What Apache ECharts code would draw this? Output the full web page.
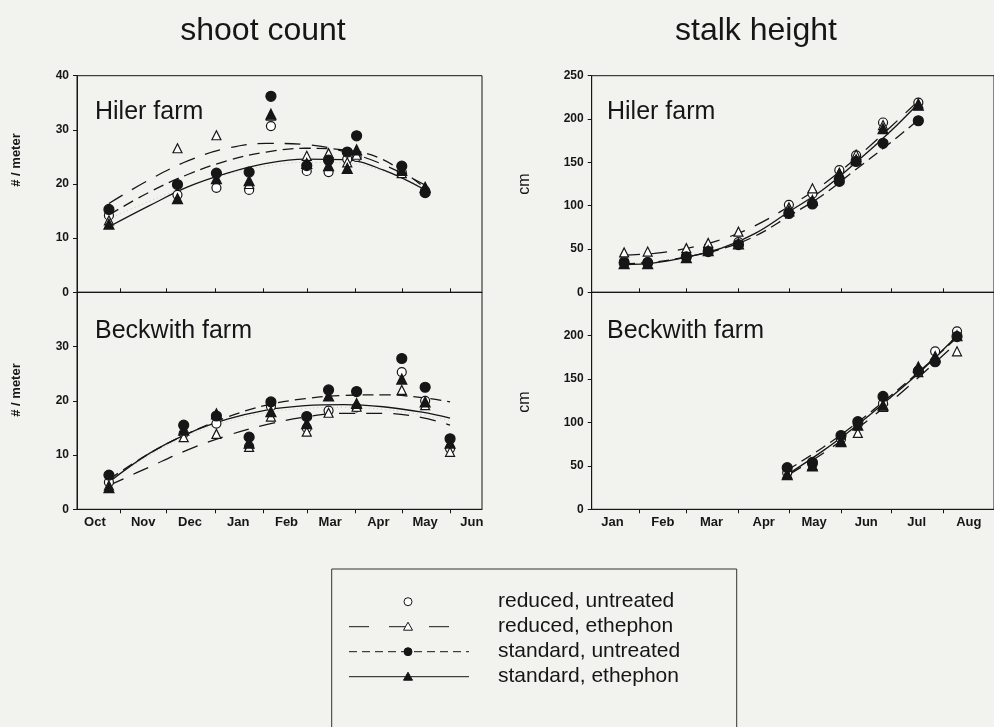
<!DOCTYPE html>
<html><head><meta charset="utf-8">
<script src="https://cdn.jsdelivr.net/npm/echarts@6/dist/echarts.min.js"></script>
<style>html,body{margin:0;padding:0;background:#f2f2ef}#c{width:994px;height:727px}</style>
</head><body><div id="c"></div>
<script>
// ---------- text ----------
const treatments = ['reduced, untreated', 'reduced, ethephon', 'standard, untreated', 'standard, ethephon'];
const columnTitles = ['shoot count', 'stalk height'];
const farmNames = ['Hiler farm', 'Beckwith farm'];
const shootUnit = '# / meter';
const heightUnit = 'cm';

// ---------- x axes (days; shoot: day 0 = Oct 1, height: day 0 = Jan 1) ----------
const shootMonths = ['Oct', 'Nov', 'Dec', 'Jan', 'Feb', 'Mar', 'Apr', 'May', 'Jun'];
const shootMonthLabelDays = [15, 46, 76, 107, 138, 166, 197, 227, 257];
const shootMonthTickDays = [31, 61, 92, 123, 151, 182, 212, 243];
const heightMonths = ['Jan', 'Feb', 'Mar', 'Apr', 'May', 'Jun', 'Jul', 'Aug'];
const heightMonthLabelDays = [15, 45, 74, 105, 135, 166, 196, 227];
const heightMonthTickDays = [31, 59, 90, 120, 151, 181, 212];

// ---------- Hiler farm, shoot count ----------
const hilerShootDays = [24, 68, 93, 114, 128, 151, 165, 177, 183, 212, 227];
const hilerShootRedUnt = [14.2, 18.0, 19.3, 18.9, 30.7, 22.4, 22.2, 24.6, 25.0, 22.2, 18.8];
const hilerShootRedEth = [13.3, 26.6, 29.0, 20.0, 32.6, 25.2, 25.7, 24.0, 25.4, 22.0, 19.3];
const hilerShootStdUnt = [15.3, 19.9, 22.0, 22.2, 36.2, 23.4, 24.4, 25.9, 28.9, 23.3, 18.4];
const hilerShootStdEth = [12.6, 17.3, 21.0, 20.6, 32.9, 23.8, 23.4, 22.9, 26.3, 22.5, 19.4];
const hilerShootFitDays = [24, 50, 75, 100, 125, 150, 175, 200, 227];
const hilerShootFitRedUnt = [13.6, 16.8, 19.6, 21.8, 23.3, 24.0, 23.9, 22.4, 19.2];
const hilerShootFitRedEth = [16.4, 20.8, 24.3, 26.6, 27.5, 27.3, 26.0, 23.6, 19.8];
const hilerShootFitStdUnt = [14.3, 18.5, 21.8, 24.3, 25.9, 26.6, 26.3, 24.5, 19.2];
const hilerShootFitStdEth = [12.1, 16.0, 19.5, 22.0, 23.8, 24.6, 24.5, 22.6, 18.9];

// ---------- Beckwith farm, shoot count ----------
const beckShootDays = [24, 72, 93, 114, 128, 151, 165, 183, 212, 227, 243];
const beckShootRedUnt = [5.0, 14.0, 15.8, 11.6, 19.0, 15.0, 18.2, 18.8, 25.3, 20.0, 11.2];
const beckShootRedEth = [4.4, 13.3, 13.9, 11.5, 17.1, 14.3, 17.8, 18.9, 22.0, 19.2, 10.6];
const beckShootStdUnt = [6.3, 15.5, 17.2, 13.3, 19.8, 17.1, 22.0, 21.7, 27.8, 22.5, 13.0];
const beckShootStdEth = [4.0, 14.6, 17.6, 12.2, 18.0, 15.8, 20.9, 19.5, 24.0, 19.8, 12.2];
const beckShootFitDays = [24, 50, 75, 100, 125, 150, 175, 200, 225, 243];
const beckShootFitRedUnt = [5.3, 9.9, 13.6, 16.2, 17.8, 18.6, 18.8, 18.4, 17.4, 16.3];
const beckShootFitRedEth = [4.4, 7.8, 11.0, 13.6, 15.6, 17.0, 17.7, 17.7, 16.9, 15.5];
const beckShootFitStdUnt = [5.5, 10.3, 14.0, 17.0, 19.2, 20.4, 21.0, 21.1, 20.6, 19.8];
const beckShootFitStdEth = [5.0, 10.3, 14.0, 16.6, 18.3, 19.1, 19.3, 18.9, 17.9, 16.8];

// ---------- Hiler farm, stalk height ----------
const hilerHeightDays = [22, 36, 59, 72, 90, 120, 134, 150, 160, 176, 197];
const hilerHeightRedUnt = [36, 35, 42, 50, 58, 101, 114, 141, 158, 196, 219];
const hilerHeightRedEth = [46, 47, 51, 57, 70, 98, 120, 138, 159, 193, 218];
const hilerHeightStdUnt = [34, 34, 41, 47, 55, 91, 102, 128, 151, 172, 198];
const hilerHeightStdEth = [33, 33, 40, 48, 56, 94, 106, 137, 153, 189, 216];
const hilerHeightFitDays = [22, 40, 60, 80, 100, 120, 140, 160, 180, 197];
const hilerHeightFitRedUnt = [33, 35, 42, 52, 69, 94, 120, 152, 187, 219];
const hilerHeightFitRedEth = [43, 45, 51, 61, 77, 99, 124, 155, 190, 221];
const hilerHeightFitStdUnt = [33, 35, 41, 50, 65, 88, 112, 142, 172, 199];
const hilerHeightFitStdEth = [32, 34, 41, 51, 68, 93, 118, 150, 185, 218];

// ---------- Beckwith farm, stalk height ----------
const beckHeightDays = [119, 134, 151, 161, 176, 197, 207, 220];
const beckHeightRedUnt = [42, 52, 81, 98, 122, 160, 182, 205];
const beckHeightRedEth = [41, 51, 79, 88, 118, 158, 174, 182];
const beckHeightStdUnt = [48, 54, 85, 101, 130, 159, 170, 199];
const beckHeightStdEth = [40, 50, 78, 97, 120, 164, 176, 200];
const beckHeightFitDays = [119, 140, 160, 180, 200, 220];
const beckHeightFitRedUnt = [41, 66, 95, 127, 161, 199];
const beckHeightFitRedEth = [39, 64, 92, 123, 157, 192];
const beckHeightFitStdUnt = [45, 71, 99, 130, 163, 198];
const beckHeightFitStdEth = [40, 67, 96, 128, 162, 200];

// ---------- build ----------
const FONT = 'Liberation Sans, Arial, Helvetica, sans-serif';
const INK = '#161616';
const zip = (xs, ys) => xs.map((x, i) => [x, ys[i]]);

const panels = [
  {days: hilerShootDays, vals: [hilerShootRedUnt, hilerShootRedEth, hilerShootStdUnt, hilerShootStdEth],
   fitDays: hilerShootFitDays, fits: [hilerShootFitRedUnt, hilerShootFitRedEth, hilerShootFitStdUnt, hilerShootFitStdEth]},
  {days: beckShootDays, vals: [beckShootRedUnt, beckShootRedEth, beckShootStdUnt, beckShootStdEth],
   fitDays: beckShootFitDays, fits: [beckShootFitRedUnt, beckShootFitRedEth, beckShootFitStdUnt, beckShootFitStdEth]},
  {days: hilerHeightDays, vals: [hilerHeightRedUnt, hilerHeightRedEth, hilerHeightStdUnt, hilerHeightStdEth],
   fitDays: hilerHeightFitDays, fits: [hilerHeightFitRedUnt, hilerHeightFitRedEth, hilerHeightFitStdUnt, hilerHeightFitStdEth]},
  {days: beckHeightDays, vals: [beckHeightRedUnt, beckHeightRedEth, beckHeightStdUnt, beckHeightStdEth],
   fitDays: beckHeightFitDays, fits: [beckHeightFitRedUnt, beckHeightFitRedEth, beckHeightFitStdUnt, beckHeightFitStdEth]}
];

const grids = [
  {left: 77, top: 75.7, width: 405, height: 216.6},
  {left: 77, top: 292.3, width: 405, height: 217},
  {left: 591.7, top: 75.7, width: 410, height: 216.6},
  {left: 591.7, top: 292.3, width: 410, height: 217}
].map(g => Object.assign(g, {show: true, borderColor: INK, borderWidth: 1, backgroundColor: 'transparent'}));

function xAxis(i) {
  const shoot = i < 2, bottom = (i % 2) === 1;
  const labelDays = shoot ? shootMonthLabelDays : heightMonthLabelDays;
  const names = shoot ? shootMonths : heightMonths;
  return {
    type: 'value', gridIndex: i,
    min: shoot ? 3.5 : 2.7, max: shoot ? 263.5 : 242,
    axisLine: {show: true, onZero: false, lineStyle: {color: INK, width: 1}},
    axisTick: {show: true, inside: !bottom, length: 4, customValues: shoot ? shootMonthTickDays : heightMonthTickDays,
               lineStyle: {color: INK, width: 1}},
    axisLabel: {show: bottom, customValues: labelDays, margin: 7,
                formatter: v => names[labelDays.indexOf(v)] || '',
                fontFamily: FONT, fontWeight: 'bold', fontSize: 13, color: INK},
    splitLine: {show: false}
  };
}
function yAxis(i) {
  const shoot = i < 2, bottom = (i % 2) === 1;
  return {
    type: 'value', gridIndex: i, min: 0, max: shoot ? 40 : 250, interval: shoot ? 10 : 50,
    axisLine: {show: true, onZero: false, lineStyle: {color: INK, width: 1}},
    axisTick: {show: true, length: 4, lineStyle: {color: INK, width: 1}},
    axisLabel: {showMaxLabel: !bottom, margin: 8, fontFamily: FONT, fontWeight: 'bold', fontSize: 12, color: INK},
    splitLine: {show: false}
  };
}

const markerStyle = [
  {symbol: 'circle', size: 9, fill: '#ffffff'},
  {symbol: 'triangle', size: 9, fill: '#ffffff'},
  {symbol: 'circle', size: 10, fill: INK},
  {symbol: 'triangle', size: 10, fill: INK}
];
const fitStyle = [
  {type: [1, 3], color: '#c8c8c4', width: 1},
  {type: [16, 11], color: INK, width: 1.3},
  {type: [11, 6], color: INK, width: 1.3},
  {type: 'solid', color: INK, width: 1.3}
];

const series = [];
panels.forEach((p, i) => {
  p.fits.forEach((f, t) => {
    series.push({
      type: 'line', name: treatments[t], xAxisIndex: i, yAxisIndex: i,
      data: zip(p.fitDays, f), smooth: 0.4, symbol: 'none', silent: true, z: 2,
      lineStyle: {type: fitStyle[t].type, color: fitStyle[t].color, width: fitStyle[t].width}
    });
  });
  [0, 1, 3, 2].forEach(t => {
    const m = markerStyle[t];
    series.push({
      type: 'scatter', name: treatments[t], xAxisIndex: i, yAxisIndex: i,
      data: zip(p.days, p.vals[t]), symbol: m.symbol, symbolSize: m.size, z: 3,
      itemStyle: {color: m.fill, borderColor: INK, borderWidth: 1.2, opacity: 1}
    });
  });
});

// legend drawn as graphic
const LX = 331.7, LY = 569, rowY = [601.7, 626.7, 651.7, 676.7], symX = 408, txtX = 498;
const legendLine = [null, [20, 20], [8, 5], null];
const graphic = [];
graphic.push(
  {type: 'text', x: 263, y: 31, style: {text: columnTitles[0], font: '32px ' + FONT, fill: INK, align: 'center', verticalAlign: 'middle'}},
  {type: 'text', x: 756, y: 31, style: {text: columnTitles[1], font: '32px ' + FONT, fill: INK, align: 'center', verticalAlign: 'middle'}},
  {type: 'text', x: 95, y: 112, style: {text: farmNames[0], font: '25px ' + FONT, fill: INK, verticalAlign: 'middle'}},
  {type: 'text', x: 95, y: 331, style: {text: farmNames[1], font: '25px ' + FONT, fill: INK, verticalAlign: 'middle'}},
  {type: 'text', x: 607, y: 112, style: {text: farmNames[0], font: '25px ' + FONT, fill: INK, verticalAlign: 'middle'}},
  {type: 'text', x: 607, y: 331, style: {text: farmNames[1], font: '25px ' + FONT, fill: INK, verticalAlign: 'middle'}},
  {type: 'text', x: 16, y: 160, rotation: Math.PI / 2, style: {text: shootUnit, font: 'bold 13px ' + FONT, fill: INK, align: 'center', verticalAlign: 'middle'}},
  {type: 'text', x: 16, y: 390, rotation: Math.PI / 2, style: {text: shootUnit, font: 'bold 13px ' + FONT, fill: INK, align: 'center', verticalAlign: 'middle'}},
  {type: 'text', x: 525, y: 184, rotation: Math.PI / 2, style: {text: heightUnit, font: '16px ' + FONT, fill: INK, align: 'center', verticalAlign: 'middle'}},
  {type: 'text', x: 525, y: 402, rotation: Math.PI / 2, style: {text: heightUnit, font: '16px ' + FONT, fill: INK, align: 'center', verticalAlign: 'middle'}},
  {type: 'rect', shape: {x: LX, y: LY, width: 405, height: 200}, style: {fill: 'none', stroke: '#333', lineWidth: 1}}
);
treatments.forEach((name, t) => {
  const y = rowY[t];
  if (t > 0) {
    graphic.push({type: 'line', shape: {x1: 349, y1: y, x2: 469, y2: y},
      style: {stroke: INK, lineWidth: 1, lineDash: legendLine[t] || null}});
  }
  if (t === 0 || t === 2) {
    graphic.push({type: 'circle', shape: {cx: symX, cy: y, r: 4},
      style: {fill: t === 0 ? '#ffffff' : INK, stroke: INK, lineWidth: 1}});
  } else {
    graphic.push({type: 'polygon', shape: {points: [[symX, y - 4.5], [symX - 4.5, y + 3.5], [symX + 4.5, y + 3.5]]},
      style: {fill: t === 1 ? '#ffffff' : INK, stroke: INK, lineWidth: 1}});
  }
  graphic.push({type: 'text', x: txtX, y: y, style: {text: name, font: '21px ' + FONT, fill: INK, verticalAlign: 'middle'}});
});

const chart = echarts.init(document.getElementById('c'), null, {renderer: 'canvas'});
chart.setOption({
  backgroundColor: '#f2f2ef',
  animation: false,
  grid: grids,
  xAxis: [0, 1, 2, 3].map(xAxis),
  yAxis: [0, 1, 2, 3].map(yAxis),
  series: series,
  graphic: graphic
});
</script></body></html>
